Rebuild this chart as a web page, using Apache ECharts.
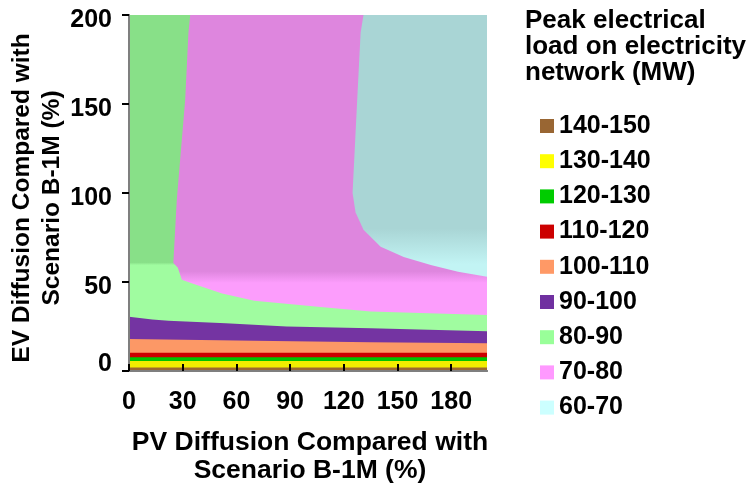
<!DOCTYPE html>
<html>
<head>
<meta charset="utf-8">
<script src="https://cdn.jsdelivr.net/npm/echarts@6/dist/echarts.min.js"></script>
<style>
html,body{margin:0;padding:0;background:#fff;}
#c{width:750px;height:486px;}
</style>
</head>
<body>
<div id="c"></div>
<script>
// ---- data ----
const xTickValues = [0, 30, 60, 90, 120, 150, 180];
const yTickValues = [0, 50, 100, 150, 200];
const legendNames = ['140-150', '130-140', '120-130', '110-120', '100-110', '90-100', '80-90', '70-80', '60-70'];

// upper edges of the horizontal bands near the bottom: [PV %, EV %]
const top140_150 = [[0, 1.9], [200, 1.9]];
const top130_140 = [[0, 5.6], [200, 5.6]];
const top120_130 = [[0, 7.7], [200, 7.7]];
const top110_120 = [[0, 10.3], [200, 10.3]];
const top100_110 = [[0, 18], [70, 17], [135, 16.1], [200, 15.6]];
const top90_100 = [[0, 30.5], [13, 29], [22, 28.3], [54, 26.8], [88, 25], [135, 24], [200, 22.3]];
// boundary of the 80-90 region (lower band edge, then the left column edge)
const edge80_90_lower = [[200, 31.5], [135, 33.4], [107, 36], [70, 39.5], [52, 43.5], [35, 49.3], [29.5, 51.2], [27.3, 58], [24.8, 60.7]];
const edge80_90_left = [[24.8, 61.3], [26.7, 96.2], [31.4, 152.5], [33.2, 190], [34.2, 200]];
// boundary of the 60-70 region (upper right)
const edge60_70 = [[131, 200], [129.4, 190], [127.5, 152.5], [124.9, 100], [126.6, 89], [131, 79.3], [140.6, 69.8], [153.5, 64.1], [168.6, 59.6], [183.8, 55.7], [200, 53]];
const xMin = 0, xMax = 200, yMin = 0, yMax = 200;

// ---- styles ----
const legendColors = {
  '140-150': '#996633', '130-140': '#FFFF00', '120-130': '#00CC00', '110-120': '#CC0000',
  '100-110': '#FF9966', '90-100': '#7030A0', '80-90': '#99FF99', '70-80': '#FF99FF', '60-70': '#CCFFFF'
};
const plotColors = {
  '140-150': '#9C6A30', '130-140': '#F2EE00', '120-130': '#00C400', '110-120': '#CC0000',
  '100-110': '#FC9866', '90-100': '#7434A2'
};
// shaded (upper) / light (lower) tones for the three upper regions, with EV levels of the change
const shades = {
  '80-90': {dark: '#88E088', light: '#A0FCA0', from: 61, to: 59.5},
  '70-80': {dark: '#DE86DE', light: '#FC9DFC', from: 56, to: 49.5},
  '60-70': {dark: '#A9D5D5', light: '#C2F4F4', from: 80, to: 60}
};

// ---- polygons built from the data ----
function bandBelow(top) { return [[xMin, yMin]].concat(top).concat([[xMax, yMin]]); }
const polys = {
  '70-80': [[xMin, yMin], [xMax, yMin], [xMax, yMax], [xMin, yMax]],
  '60-70': edge60_70.concat([[xMax, yMax]]),
  '80-90': [[xMin, yMin], [xMax, yMin]].concat(edge80_90_lower).concat(edge80_90_left).concat([[xMin, yMax]]),
  '90-100': bandBelow(top90_100),
  '100-110': bandBelow(top100_110),
  '110-120': bandBelow(top110_120),
  '120-130': bandBelow(top120_130),
  '130-140': bandBelow(top130_140),
  '140-150': bandBelow(top140_150)
};
const paintOrder = ['70-80', '60-70', '80-90', '90-100', '100-110', '110-120', '120-130', '130-140', '140-150'];

const FONT = "'Liberation Sans', Arial, sans-serif";

function makeSeries(name) {
  const pts = polys[name];
  return {
    type: 'custom',
    name: name,
    coordinateSystem: 'cartesian2d',
    clip: true,
    silent: true,
    itemStyle: {color: legendColors[name]},
    data: pts,
    renderItem: function (params, api) {
      if (params.dataIndex !== 0) return null;
      const points = pts.map(p => api.coord(p));
      let fill = plotColors[name];
      const sh = shades[name];
      if (sh) {
        const yT = api.coord([xMin, yMax])[1];
        const yB = api.coord([xMin, yMin])[1];
        const o1 = (api.coord([xMin, sh.from])[1] - yT) / (yB - yT);
        const o2 = (api.coord([xMin, sh.to])[1] - yT) / (yB - yT);
        fill = new echarts.graphic.LinearGradient(0, yT, 0, yB, [
          {offset: 0, color: sh.dark}, {offset: o1, color: sh.dark},
          {offset: o2, color: sh.light}, {offset: 1, color: sh.light}
        ], true);
      }
      return {type: 'polygon', shape: {points: points}, style: {fill: fill, stroke: null}};
    }
  };
}

const chart = echarts.init(document.getElementById('c'), null, {renderer: 'canvas'});
const axisLineStyle = {color: '#7F7F7F', width: 2};
const labelFont = {color: '#000', fontSize: 25, fontWeight: 'bold', fontFamily: FONT};
const option = {
  animation: false,
  backgroundColor: '#ffffff',
  grid: {left: 129, right: 263, top: 15, bottom: 115, containLabel: false},
  xAxis: [{
    type: 'value', min: xMin, max: xMax, position: 'bottom', z: 10,
    axisLine: {show: true, lineStyle: axisLineStyle},
    axisTick: {show: true, inside: true, length: 7, customValues: xTickValues, lineStyle: {color: '#000', width: 2}},
    axisLabel: Object.assign({show: true, customValues: xTickValues, margin: 19}, labelFont),
    splitLine: {show: false}
  }, {
    type: 'value', min: xMin, max: xMax, position: 'top', z: 10,
    axisLine: {show: true, lineStyle: axisLineStyle},
    axisTick: {show: false}, axisLabel: {show: false}, splitLine: {show: false}
  }],
  yAxis: [{
    type: 'value', min: yMin, max: yMax, interval: 50, position: 'left', z: 10,
    axisLine: {show: true, lineStyle: axisLineStyle},
    axisTick: {show: false},
    axisLabel: Object.assign({
      show: true, margin: 17,
      formatter: function (v) { return v === yMin ? '{lo|' + v + '}' : '{hi|' + v + '}'; },
      rich: {
        lo: Object.assign({padding: [0, 0, 14, 0]}, labelFont),
        hi: Object.assign({padding: [10, 0, 0, 0]}, labelFont)
      }
    }, labelFont),
    splitLine: {show: false}
  }, {
    type: 'value', min: yMin, max: yMax, interval: 50, position: 'right', z: 10,
    axisLine: {show: true, lineStyle: axisLineStyle},
    axisTick: {show: true, inside: true, length: 7, lineStyle: {color: '#000', width: 2}},
    axisLabel: {show: false}, splitLine: {show: false}
  }],
  legend: {
    orient: 'vertical', left: 535, top: 108.5, itemWidth: 14, itemHeight: 14, itemGap: 10.2,
    icon: 'rect', selectedMode: false,
    data: legendNames.map(n => ({name: n, itemStyle: {color: legendColors[n]}})),
    textStyle: {color: '#000', fontSize: 25, fontWeight: 'bold', fontFamily: FONT, lineHeight: 25}
  },
  graphic: [
    {type: 'text', left: 525, top: 8, silent: true,
     style: {text: 'Peak electrical\nload on electricity\nnetwork (MW)', fill: '#000', font: 'bold 26px ' + FONT, lineHeight: 26}},
    {type: 'text', x: 310, y: 457, silent: true,
     style: {text: 'PV Diffusion Compared with\nScenario B-1M (%)', fill: '#000', font: 'bold 26.5px ' + FONT, lineHeight: 28, textAlign: 'center', textVerticalAlign: 'middle'}},
    {type: 'text', x: 37, y: 198, rotation: Math.PI / 2, silent: true,
     style: {text: 'EV Diffusion Compared with\nScenario B-1M (%)', fill: '#000', font: 'bold 24.5px ' + FONT, lineHeight: 30, textAlign: 'center', textVerticalAlign: 'middle'}}
  ],
  series: paintOrder.map(makeSeries)
};
chart.setOption(option);
</script>
</body>
</html>
